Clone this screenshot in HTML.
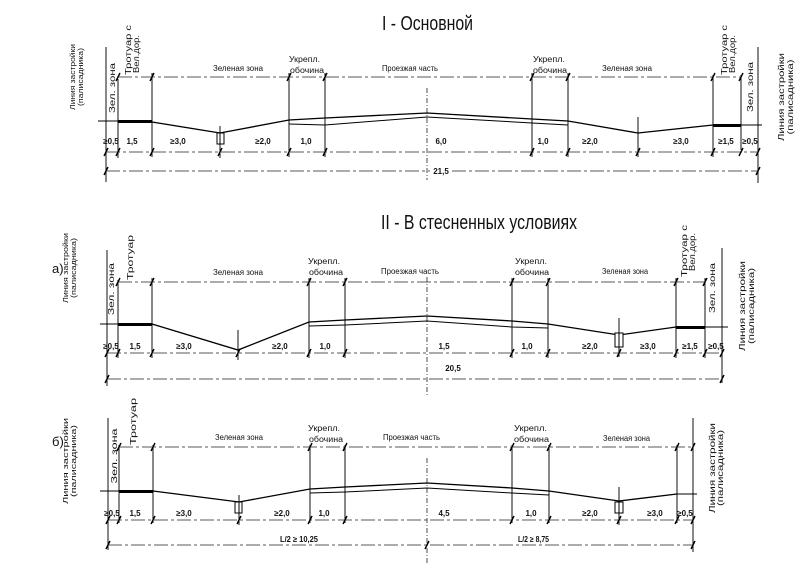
<!DOCTYPE html>
<html><head><meta charset="utf-8">
<style>html,body{margin:0;padding:0;background:#fff;}svg{display:block}</style>
</head><body>
<svg width="805" height="574" viewBox="0 0 805 574" xmlns="http://www.w3.org/2000/svg" font-family="'Liberation Sans', sans-serif">
<rect width="805" height="574" fill="#fff"/>

<!-- ================= Titles ================= -->
<text x="382" y="30" font-size="20" fill="#111" textLength="91" lengthAdjust="spacingAndGlyphs">I - Основной</text>
<text x="381" y="229" font-size="20" fill="#111" textLength="196" lengthAdjust="spacingAndGlyphs">II - В стесненных условиях</text>
<text x="52" y="273" font-size="13" fill="#111">а)</text>
<text x="52" y="446" font-size="13" fill="#111">б)</text>

<!-- ================= SECTION I ================= -->
<g fill="none" stroke="#222" stroke-width="0.8" stroke-dasharray="14 3 3 3">
  <path d="M118,77H741"/>
  <path d="M106,152H758"/>
  <path d="M106,171H430M452,171H758"/>
</g>
<path d="M427,88V180" stroke="#222" stroke-width="0.8" stroke-dasharray="5 2 1 2" fill="none"/>
<g stroke="#111" stroke-width="1" fill="none">
  <path d="M106,47V182M758,47V183M118,79V158M152,73V157M220,126V158M289,73V157M325,73V157M532,73V157M568,73V157M638,117V157M713,75V157M741,75V150"/>
</g>
<g stroke="#000" stroke-width="1.4" fill="none">
  <path d="M116,81l4,-8M150,81l4,-8M287,81l4,-8M323,81l4,-8M530,81l4,-8M566,81l4,-8M711,81l4,-8M739,81l4,-8"/>
  <path d="M104,156l4,-8M116,156l4,-8M150,156l4,-8M218,156l4,-8M287,156l4,-8M323,156l4,-8M530,156l4,-8M566,156l4,-8M636,156l4,-8M711,156l4,-8M739,156l4,-8M756,156l4,-8"/>
  <path d="M104,175l4,-8M756,175l4,-8"/>
</g>
<g fill="none" stroke="#000">
  <path d="M98,121H118M741,125H762" stroke-width="1"/>
  <path d="M118,121.5H152M713,125.5H741" stroke-width="3"/>
  <path d="M152,122L220,133L289,120L325,118L427,113L532,119L568,121L638,133L713,125" stroke-width="1.3"/>
  <path d="M289,124L325,125L427,117L532,123L568,125" stroke-width="1"/>
  <rect x="217" y="133" width="7" height="11" stroke-width="1" fill="#fff"/>
  <path d="M220,133V144" stroke-width="1"/>
</g>
<g font-size="8" fill="#111">
  <text x="213" y="71" textLength="50" lengthAdjust="spacingAndGlyphs">Зеленая зона</text>
  <text x="289" y="62" textLength="31" lengthAdjust="spacingAndGlyphs">Укрепл.</text>
  <text x="290" y="73" textLength="34" lengthAdjust="spacingAndGlyphs">обочина</text>
  <text x="382" y="71" textLength="56" lengthAdjust="spacingAndGlyphs">Проезжая часть</text>
  <text x="533" y="62" textLength="32" lengthAdjust="spacingAndGlyphs">Укрепл.</text>
  <text x="533" y="73" textLength="34" lengthAdjust="spacingAndGlyphs">обочина</text>
  <text x="602" y="71" textLength="50" lengthAdjust="spacingAndGlyphs">Зеленая зона</text>
</g>
<g font-size="8" font-weight="bold" fill="#111" text-anchor="middle">
  <text x="111" y="144">≥0,5</text>
  <text x="132" y="144">1,5</text>
  <text x="178" y="144">≥3,0</text>
  <text x="263" y="144">≥2,0</text>
  <text x="306" y="144">1,0</text>
  <text x="441" y="144">6,0</text>
  <text x="543" y="144">1,0</text>
  <text x="590" y="144">≥2,0</text>
  <text x="681" y="144">≥3,0</text>
  <text x="726" y="144">≥1,5</text>
  <text x="750" y="144">≥0,5</text>
  <text x="441" y="174">21,5</text>
</g>
<g fill="#111" text-anchor="middle" lengthAdjust="spacingAndGlyphs">
  <text transform="translate(75,77) rotate(-90)" font-size="7" textLength="66" lengthAdjust="spacingAndGlyphs">Линия застройки</text>
  <text transform="translate(83,77) rotate(-90)" font-size="7" textLength="58" lengthAdjust="spacingAndGlyphs">(палисадника)</text>
  <text transform="translate(115,88) rotate(-90)" font-size="8" textLength="50" lengthAdjust="spacingAndGlyphs">Зел. зона</text>
  <text transform="translate(753,87) rotate(-90)" font-size="8" textLength="50" lengthAdjust="spacingAndGlyphs">Зел. зона</text>
  <text transform="translate(784,97) rotate(-90)" font-size="8" textLength="88" lengthAdjust="spacingAndGlyphs">Линия застройки</text>
  <text transform="translate(793,97) rotate(-90)" font-size="8" textLength="75" lengthAdjust="spacingAndGlyphs">(палисадника)</text>
</g>
<g fill="#111" font-size="8">
  <text transform="translate(131,75) rotate(-90)" textLength="50" lengthAdjust="spacingAndGlyphs">Тротуар с</text>
  <text transform="translate(139,73) rotate(-90)" textLength="38" lengthAdjust="spacingAndGlyphs">Вел.дор.</text>
  <text transform="translate(727,75) rotate(-90)" textLength="50" lengthAdjust="spacingAndGlyphs">Тротуар с</text>
  <text transform="translate(735,73) rotate(-90)" textLength="38" lengthAdjust="spacingAndGlyphs">Вел.дор.</text>
</g>

<!-- ================= SECTION II a ================= -->
<g fill="none" stroke="#222" stroke-width="0.8" stroke-dasharray="14 3 3 3">
  <path d="M118,282H705"/>
  <path d="M107,353H722"/>
  <path d="M107,379H722"/>
</g>
<path d="M427,277V395" stroke="#222" stroke-width="0.8" stroke-dasharray="5 2 1 2" fill="none"/>
<g stroke="#111" stroke-width="1" fill="none">
  <path d="M107,250V386M722,248V383M118,280V358M152,278V358M238,330V360M309,278V358M345,278V358M512,278V358M548,278V358M619,318V357M676,278V358M705,278V358"/>
</g>
<g stroke="#000" stroke-width="1.4" fill="none">
  <path d="M116,286l4,-8M150,286l4,-8M307,286l4,-8M343,286l4,-8M510,286l4,-8M546,286l4,-8M674,286l4,-8M703,286l4,-8"/>
  <path d="M105,357l4,-8M116,357l4,-8M150,357l4,-8M236,357l4,-8M307,357l4,-8M343,357l4,-8M510,357l4,-8M546,357l4,-8M617,357l4,-8M674,357l4,-8M703,357l4,-8M720,357l4,-8"/>
  <path d="M105,383l4,-8M720,383l4,-8"/>
</g>
<g fill="none" stroke="#000">
  <path d="M100,324H118M705,327H728" stroke-width="1"/>
  <path d="M118,324.5H152M676,327.5H705" stroke-width="3"/>
  <path d="M152,324L238,350L309,322L345,320L427,316L512,321L548,324L619,335L676,327" stroke-width="1.3"/>
  <path d="M309,326L345,325L427,321L512,327L548,328" stroke-width="1"/>
  <rect x="615" y="333" width="8" height="14" stroke-width="1" fill="#fff"/>
  <path d="M619,333V347" stroke-width="1"/>
</g>
<g font-size="8" fill="#111">
  <text x="213" y="275" textLength="50" lengthAdjust="spacingAndGlyphs">Зеленая зона</text>
  <text x="308" y="264" textLength="32" lengthAdjust="spacingAndGlyphs">Укрепл.</text>
  <text x="309" y="275" textLength="34" lengthAdjust="spacingAndGlyphs">обочина</text>
  <text x="381" y="274" textLength="58" lengthAdjust="spacingAndGlyphs">Проезжая часть</text>
  <text x="515" y="264" textLength="32" lengthAdjust="spacingAndGlyphs">Укрепл.</text>
  <text x="515" y="275" textLength="34" lengthAdjust="spacingAndGlyphs">обочина</text>
  <text x="602" y="274" textLength="46" lengthAdjust="spacingAndGlyphs">Зеленая зона</text>
</g>
<g font-size="8" font-weight="bold" fill="#111" text-anchor="middle">
  <text x="111" y="349">≥0,5</text>
  <text x="135" y="349">1,5</text>
  <text x="184" y="349">≥3,0</text>
  <text x="280" y="349">≥2,0</text>
  <text x="325" y="349">1,0</text>
  <text x="444" y="349">1,5</text>
  <text x="527" y="349">1,0</text>
  <text x="590" y="349">≥2,0</text>
  <text x="648" y="349">≥3,0</text>
  <text x="690" y="349">≥1,5</text>
  <text x="716" y="349">≥0,5</text>
  <text x="453" y="371">20,5</text>
</g>
<g fill="#111" text-anchor="middle">
  <text transform="translate(68,268) rotate(-90)" font-size="7" textLength="70" lengthAdjust="spacingAndGlyphs">Линия застройки</text>
  <text transform="translate(76,268) rotate(-90)" font-size="7" textLength="60" lengthAdjust="spacingAndGlyphs">(палисадника)</text>
  <text transform="translate(114,289) rotate(-90)" font-size="8" textLength="52" lengthAdjust="spacingAndGlyphs">Зел. зона</text>
  <text transform="translate(715,288) rotate(-90)" font-size="8" textLength="50" lengthAdjust="spacingAndGlyphs">Зел. зона</text>
  <text transform="translate(745,306) rotate(-90)" font-size="8" textLength="90" lengthAdjust="spacingAndGlyphs">Линия застройки</text>
  <text transform="translate(754,306) rotate(-90)" font-size="8" textLength="76" lengthAdjust="spacingAndGlyphs">(палисадника)</text>
</g>
<g fill="#111" font-size="8">
  <text transform="translate(133,280) rotate(-90)" textLength="45" lengthAdjust="spacingAndGlyphs">Тротуар</text>
  <text transform="translate(687,277) rotate(-90)" textLength="52" lengthAdjust="spacingAndGlyphs">Тротуар с</text>
  <text transform="translate(695,271) rotate(-90)" textLength="38" lengthAdjust="spacingAndGlyphs">Вел.дор.</text>
</g>

<!-- ================= SECTION II b ================= -->
<g fill="none" stroke="#222" stroke-width="0.8" stroke-dasharray="14 3 3 3">
  <path d="M119,447H693"/>
  <path d="M108,520H693"/>
  <path d="M108,545H693"/>
</g>
<path d="M427,458V565" stroke="#222" stroke-width="0.8" stroke-dasharray="5 2 1 2" fill="none"/>
<g stroke="#111" stroke-width="1" fill="none">
  <path d="M108,418V550M693,418V552M119,445V523M153,445V523M239,495V525M310,445V523M345,445V523M512,445V523M549,445V523M619,487V525M677,445V523"/>
</g>
<g stroke="#000" stroke-width="1.4" fill="none">
  <path d="M117,451l4,-8M151,451l4,-8M308,451l4,-8M343,451l4,-8M510,451l4,-8M547,451l4,-8M675,451l4,-8M691,451l4,-8"/>
  <path d="M106,524l4,-8M117,524l4,-8M151,524l4,-8M237,524l4,-8M308,524l4,-8M343,524l4,-8M510,524l4,-8M547,524l4,-8M617,524l4,-8M675,524l4,-8M691,524l4,-8"/>
  <path d="M106,549l4,-8M425,549l4,-8M691,549l4,-8"/>
</g>
<g fill="none" stroke="#000">
  <path d="M100,491H119M677,494H697" stroke-width="1"/>
  <path d="M119,491.5H153" stroke-width="3"/>
  <path d="M153,491L239,502L310,489L345,487L427,483L512,488L549,491L619,501L677,494" stroke-width="1.3"/>
  <path d="M310,493L345,492L427,488L512,493L549,495" stroke-width="1"/>
  <rect x="235" y="502" width="7" height="11" stroke-width="1" fill="#fff"/>
  <rect x="615" y="502" width="8" height="11" stroke-width="1" fill="#fff"/>
  <path d="M239,502V513M619,502V513" stroke-width="1"/>
</g>
<g font-size="8" fill="#111">
  <text x="215" y="440" textLength="48" lengthAdjust="spacingAndGlyphs">Зеленая зона</text>
  <text x="308" y="431" textLength="32" lengthAdjust="spacingAndGlyphs">Укрепл.</text>
  <text x="309" y="442" textLength="34" lengthAdjust="spacingAndGlyphs">обочина</text>
  <text x="383" y="440" textLength="57" lengthAdjust="spacingAndGlyphs">Проезжая часть</text>
  <text x="514" y="431" textLength="33" lengthAdjust="spacingAndGlyphs">Укрепл.</text>
  <text x="514" y="442" textLength="35" lengthAdjust="spacingAndGlyphs">обочина</text>
  <text x="603" y="441" textLength="47" lengthAdjust="spacingAndGlyphs">Зеленая зона</text>
</g>
<g font-size="8" font-weight="bold" fill="#111" text-anchor="middle">
  <text x="112" y="516">≥0,5</text>
  <text x="135" y="516">1,5</text>
  <text x="184" y="516">≥3,0</text>
  <text x="282" y="516">≥2,0</text>
  <text x="324" y="516">1,0</text>
  <text x="444" y="516">4,5</text>
  <text x="531" y="516">1,0</text>
  <text x="590" y="516">≥2,0</text>
  <text x="655" y="516">≥3,0</text>
  <text x="685" y="516">≥0,5</text>
</g>
<g font-size="8" font-weight="bold" fill="#111">
  <text x="280" y="542" textLength="38" lengthAdjust="spacingAndGlyphs">L/2 ≥ 10,25</text>
  <text x="518" y="542" textLength="31" lengthAdjust="spacingAndGlyphs">L/2 ≥ 8,75</text>
</g>
<g fill="#111" text-anchor="middle">
  <text transform="translate(68,461) rotate(-90)" font-size="7.5" textLength="86" lengthAdjust="spacingAndGlyphs">Линия застройки</text>
  <text transform="translate(76,461) rotate(-90)" font-size="7.5" textLength="72" lengthAdjust="spacingAndGlyphs">(палисадника)</text>
  <text transform="translate(117,456) rotate(-90)" font-size="8" textLength="55" lengthAdjust="spacingAndGlyphs">Зел. зона</text>
  <text transform="translate(715,468) rotate(-90)" font-size="8" textLength="90" lengthAdjust="spacingAndGlyphs">Линия застройки</text>
  <text transform="translate(723,468) rotate(-90)" font-size="8" textLength="76" lengthAdjust="spacingAndGlyphs">(палисадника)</text>
</g>
<g fill="#111" font-size="8">
  <text transform="translate(136,445) rotate(-90)" textLength="47" lengthAdjust="spacingAndGlyphs">Тротуар</text>
</g>
</svg>
</body></html>
